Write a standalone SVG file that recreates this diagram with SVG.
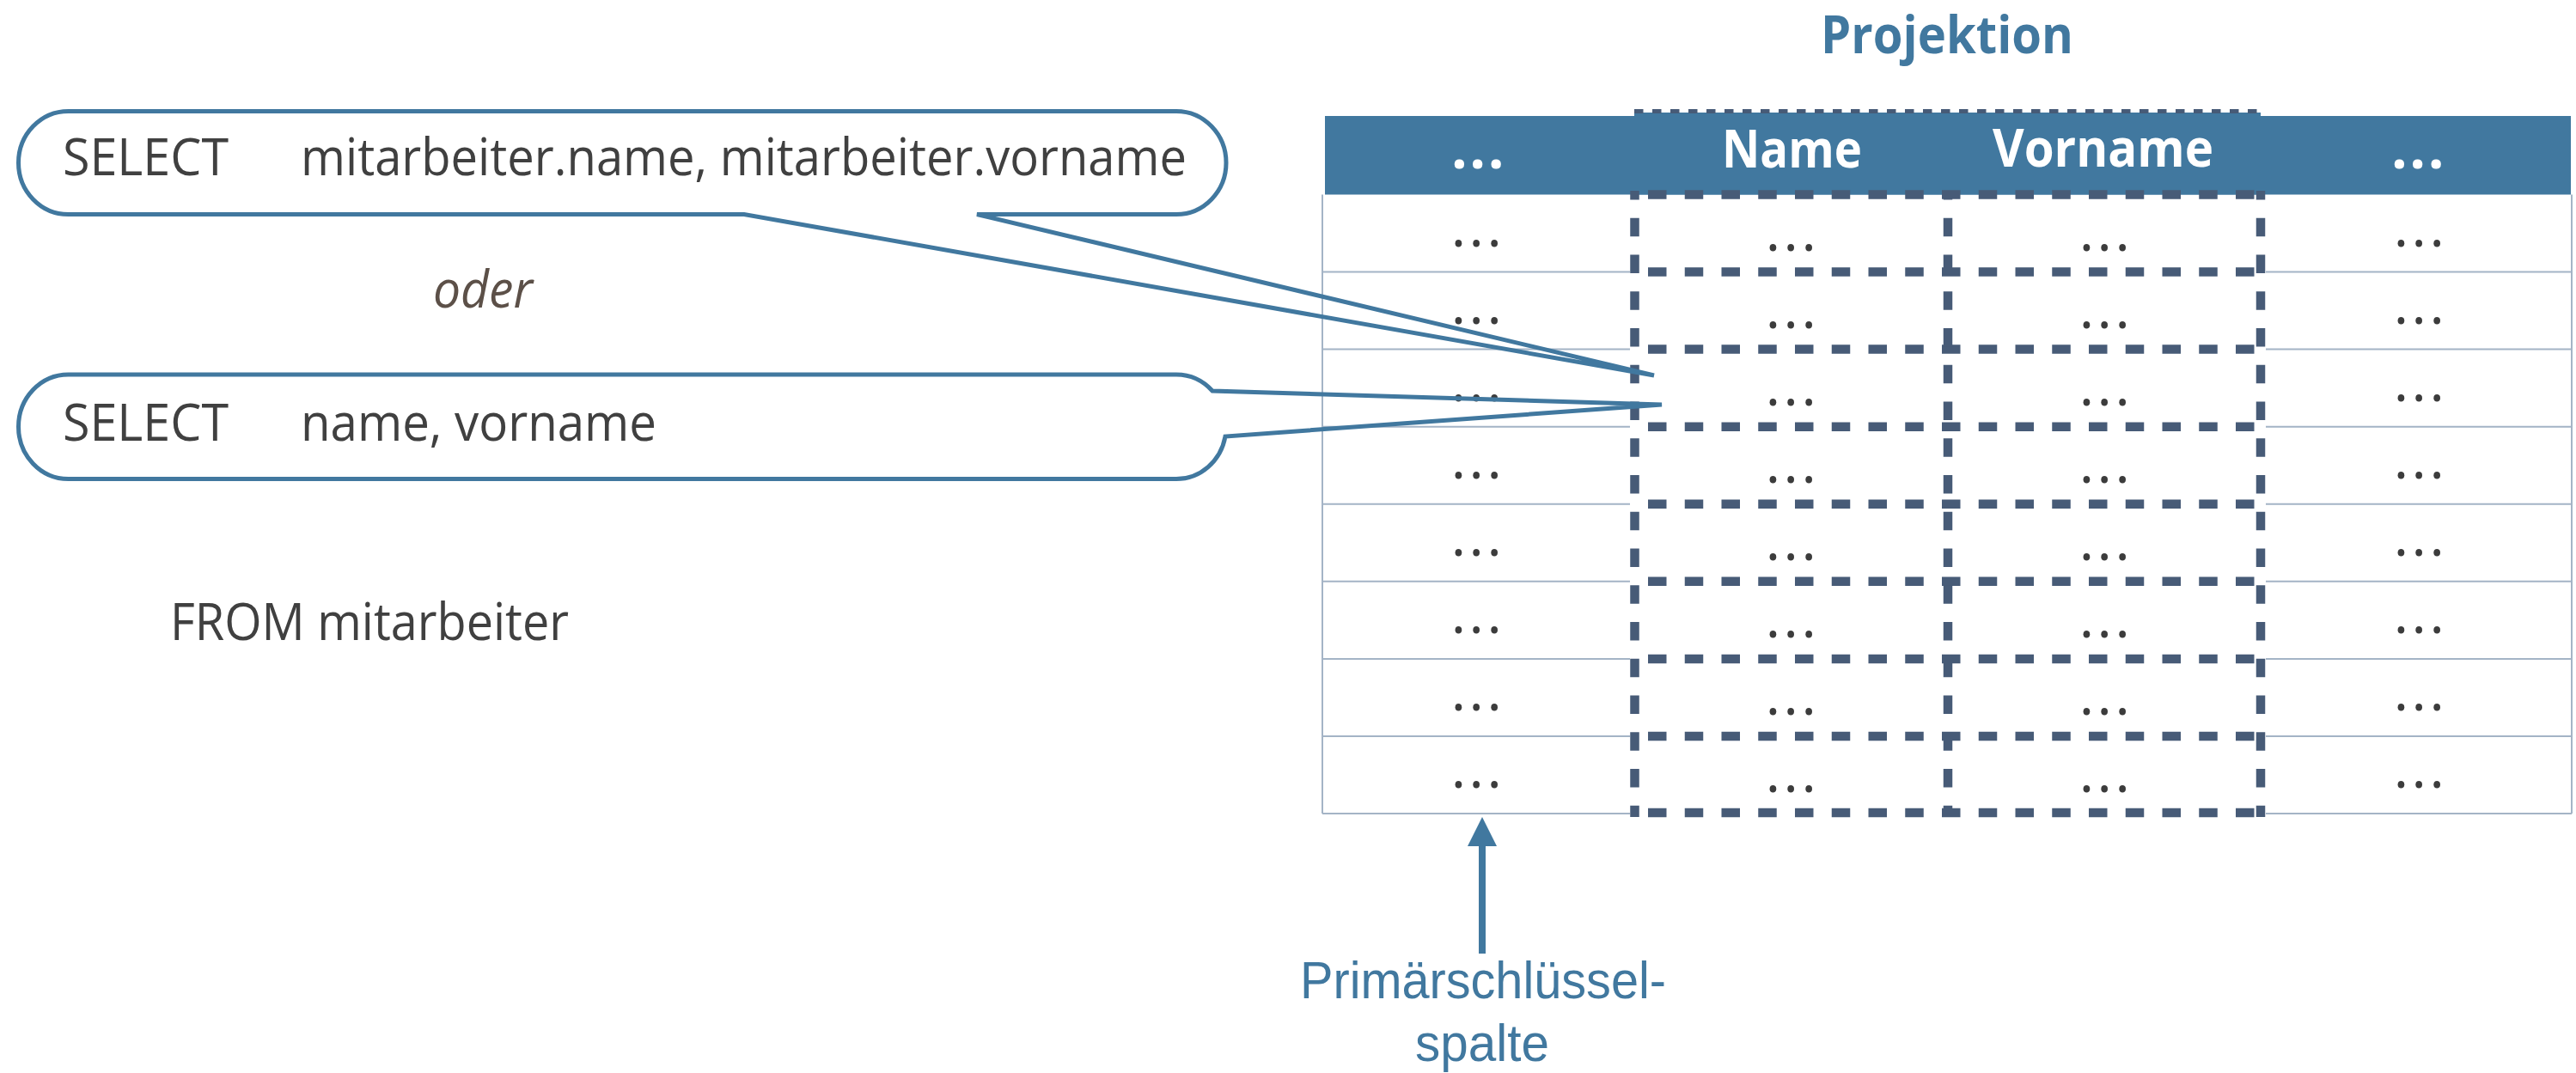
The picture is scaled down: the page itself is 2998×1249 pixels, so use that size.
<svg xmlns="http://www.w3.org/2000/svg" width="2998" height="1249" viewBox="0 0 2998 1249">
<defs>
<style>
.t{font-family:"Open Sans","Liberation Sans",sans-serif;font-size:61px;fill:#404040}
.pk{font-family:"Liberation Sans","Open Sans",sans-serif;font-size:61px;fill:#41789f}
.b{font-weight:bold}
.blue{fill:#41789f}
.w{fill:#ffffff}
.it{font-style:italic;fill:#5c5048;font-size:60px}
.dots{font-family:"Open Sans","Liberation Sans",sans-serif;font-size:66px;fill:#3c3c3c;letter-spacing:3.5px;text-anchor:middle}
.hdots{font-family:"Open Sans","Liberation Sans",sans-serif;font-size:66px;font-weight:bold;fill:#ffffff;letter-spacing:2.5px;text-anchor:middle}
.thin{stroke:#a4b4c6;stroke-width:2;fill:none}
.dash{stroke:#475b77;stroke-width:10.5;fill:none;stroke-dasharray:21.5 21.25}
.vdash{stroke:#475b77;stroke-width:10.5;fill:none;stroke-dasharray:21.5 21.25;stroke-dashoffset:11}
.bubble{fill:none;stroke:#41789f;stroke-width:5;stroke-linejoin:miter;stroke-miterlimit:4}
.arrow{stroke:#41789f;stroke-width:8;fill:none}
</style>
<marker id="ah" viewBox="0 0 34 34" refX="0" refY="17" markerWidth="34" markerHeight="34" markerUnits="userSpaceOnUse" orient="auto">
<path d="M0,0 L34,17 L0,34 Z" fill="#41789f"/>
</marker>
</defs>
<rect width="2998" height="1249" fill="#ffffff"/>

<g id="title">
<text class="t b blue" x="2119" y="62" textLength="294" lengthAdjust="spacingAndGlyphs">Projektion</text>
</g>

<g id="table">
<rect x="1542" y="135" width="1450" height="91.5" fill="#41789f"/>
<rect x="1902" y="131" width="729" height="95.5" fill="#41789f"/>
<line x1="1902" y1="129.5" x2="2631" y2="129.5" stroke="#475b77" stroke-width="5" stroke-dasharray="10.5 10.5"/>
<g id="header-text">
<text class="hdots" x="1721" y="196">...</text>
<text class="t b w" x="2004" y="195" textLength="163" lengthAdjust="spacingAndGlyphs">Name</text>
<text class="t b w" x="2319" y="194" textLength="257" lengthAdjust="spacingAndGlyphs">Vorname</text>
<text class="hdots" x="2815" y="196">...</text>
</g>
<g id="grid-lines">
<path class="thin" d="M1539,226.5 V947 M2993,226.5 V947
M1539,316.6 H1897 M2637,316.6 H2993
M1539,406.6 H1897 M2637,406.6 H2993
M1539,496.7 H1897 M2637,496.7 H2993
M1539,586.7 H1897 M2637,586.7 H2993
M1539,676.8 H1897 M2637,676.8 H2993
M1539,766.9 H1897 M2637,766.9 H2993
M1539,856.9 H1897 M2637,856.9 H2993
M1539,947 H1897 M2637,947 H2993"/>
</g>
<g id="cells">
<text class="dots" x="1720" y="287">...</text>
<text class="dots" x="2086" y="292">...</text>
<text class="dots" x="2451" y="292">...</text>
<text class="dots" x="2817" y="287">...</text>

<text class="dots" x="1720" y="377">...</text>
<text class="dots" x="2086" y="382">...</text>
<text class="dots" x="2451" y="382">...</text>
<text class="dots" x="2817" y="377">...</text>

<text class="dots" x="1720" y="467">...</text>
<text class="dots" x="2086" y="472">...</text>
<text class="dots" x="2451" y="472">...</text>
<text class="dots" x="2817" y="467">...</text>

<text class="dots" x="1720" y="557">...</text>
<text class="dots" x="2086" y="562">...</text>
<text class="dots" x="2451" y="562">...</text>
<text class="dots" x="2817" y="557">...</text>

<text class="dots" x="1720" y="647">...</text>
<text class="dots" x="2086" y="652">...</text>
<text class="dots" x="2451" y="652">...</text>
<text class="dots" x="2817" y="647">...</text>

<text class="dots" x="1720" y="737">...</text>
<text class="dots" x="2086" y="742">...</text>
<text class="dots" x="2451" y="742">...</text>
<text class="dots" x="2817" y="737">...</text>

<text class="dots" x="1720" y="827">...</text>
<text class="dots" x="2086" y="832">...</text>
<text class="dots" x="2451" y="832">...</text>
<text class="dots" x="2817" y="827">...</text>

<text class="dots" x="1720" y="917">...</text>
<text class="dots" x="2086" y="922">...</text>
<text class="dots" x="2451" y="922">...</text>
<text class="dots" x="2817" y="917">...</text>
</g>
<g id="projection">
<path class="dash" d="M1918,226.5 H2624 M1918,316.6 H2624 M1918,406.6 H2624 M1918,496.7 H2624 M1918,586.7 H2624 M1918,676.8 H2624 M1918,766.9 H2624 M1918,856.9 H2624 M1918,946 H2624"/>
<line class="vdash" x1="1902.5" y1="222" x2="1902.5" y2="951"/>
<line class="vdash" x1="2267" y1="222" x2="2267" y2="951"/>
<line class="vdash" x1="2631" y1="222" x2="2631" y2="951"/>
</g>
</g>

<g id="bubble-1">
<path class="bubble" d="M79.5,129.5 H1369 A58,60 0 0 1 1427,189.5 A58,60 0 0 1 1369,249.5 H1137 L1925,437 L866,249.5 H79.5 A58,60 0 0 1 21.5,189.5 A58,60 0 0 1 79.5,129.5 Z"/>
<text class="t" x="73" y="204" textLength="193" lengthAdjust="spacingAndGlyphs">SELECT</text>
<text class="t" x="350" y="204" textLength="1031" lengthAdjust="spacingAndGlyphs">mitarbeiter.name, mitarbeiter.vorname</text>
</g>

<g id="oder">
<text class="t it" x="504" y="358" textLength="116" lengthAdjust="spacingAndGlyphs">oder</text>
</g>

<g id="bubble-2">
<path class="bubble" d="M79.5,436 H1369 A58,60.75 0 0 1 1411,455 L1934,471 L1426,508 A58,60.75 0 0 1 1369,557.5 H79.5 A58,60.75 0 0 1 21.5,496.75 A58,60.75 0 0 1 79.5,436 Z"/>
<text class="t" x="73" y="513" textLength="193" lengthAdjust="spacingAndGlyphs">SELECT</text>
<text class="t" x="350" y="513" textLength="414" lengthAdjust="spacingAndGlyphs">name, vorname</text>
</g>

<g id="from">
<text class="t" x="198" y="745" textLength="464" lengthAdjust="spacingAndGlyphs">FROM mitarbeiter</text>
</g>

<g id="connectors">
<line class="arrow" x1="1725" y1="1110" x2="1725" y2="985" marker-end="url(#ah)"/>
</g>

<g id="pk-label">
<text class="pk" x="1513" y="1162" textLength="426" lengthAdjust="spacingAndGlyphs">Primärschlüssel-</text>
<text class="pk" x="1647" y="1235" textLength="156" lengthAdjust="spacingAndGlyphs">spalte</text>
</g>
</svg>
